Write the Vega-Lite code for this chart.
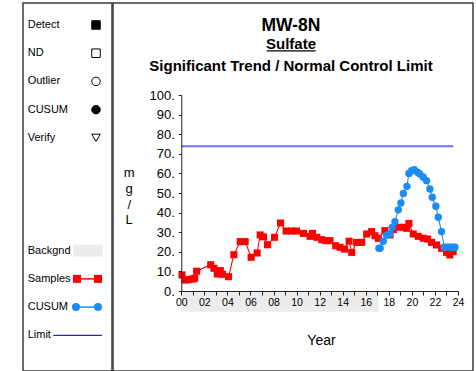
{
  "$schema": "https://vega.github.io/schema/vega-lite/v6.json",
  "padding": {"left": 22, "top": 2, "right": 0, "bottom": 0},
  "spacing": -1.5,
  "config": {
    "font": "Liberation Sans",
    "view": {"stroke": "#3c3c3c", "strokeWidth": 1.5},
    "concat": {"spacing": -1.5}
  },
  "hconcat": [
    {
      "width": 89,
      "height": 368,
      "data": {"values": [
        {"key": "Detect", "label": "Detect"},
        {"key": "ND", "label": "ND"},
        {"key": "Outlier", "label": "Outlier"},
        {"key": "CUSUM", "label": "CUSUM"},
        {"key": "Verify", "label": "Verify"},
        {"key": "Backgnd", "label": "Backgnd"},
        {"key": "Samples", "label": "Samples"},
        {"key": "CUSUM line", "label": "CUSUM"},
        {"key": "Limit", "label": "Limit"}
      ]},
      "encoding": {
        "y": {"field": "key", "type": "nominal", "axis": null,
          "scale": {"type": "point", "padding": 0, "range": [22, 332.3],
            "domain": ["Detect", "ND", "Outlier", "CUSUM", "Verify", "gap1", "gap2", "gap3", "Backgnd", "Samples", "CUSUM line", "Limit"]}}
      },
      "layer": [
        {
          "mark": {"type": "text", "align": "left", "baseline": "middle", "fontSize": 11, "color": "black"},
          "encoding": {
            "x": {"datum": 4.7, "type": "quantitative", "axis": null, "scale": {"domain": [0, 89], "range": [0, 89], "nice": false, "zero": false}},
            "text": {"field": "label"}
          }
        },
        {
          "transform": [{"filter": {"field": "key", "oneOf": ["Detect", "ND", "Outlier", "CUSUM", "Verify"]}}],
          "mark": {"type": "point", "filled": true, "stroke": "black", "strokeWidth": 1, "size": 72, "opacity": 1},
          "encoding": {
            "x": {"datum": 73, "type": "quantitative"},
            "shape": {"field": "key", "type": "nominal", "legend": null,
              "scale": {"domain": ["Detect", "ND", "Outlier", "CUSUM", "Verify"], "range": ["square", "square", "circle", "circle", "triangle-down"]}},
            "fill": {"field": "key", "type": "nominal", "legend": null,
              "scale": {"domain": ["Detect", "ND", "Outlier", "CUSUM", "Verify"], "range": ["black", "white", "white", "black", "white"]}}
          }
        },
        {
          "transform": [{"filter": "datum.key == 'Backgnd'"}],
          "mark": {"type": "rule", "color": "#ececec", "strokeWidth": 12.3, "strokeCap": "butt"},
          "encoding": {"x": {"datum": 50.3, "type": "quantitative"}, "x2": {"datum": 79.7}}
        },
        {
          "transform": [{"filter": "datum.key == 'Samples'"}],
          "mark": {"type": "rule", "color": "#ff0000", "strokeWidth": 1.5},
          "encoding": {"x": {"datum": 54, "type": "quantitative"}, "x2": {"datum": 75}}
        },
        {
          "transform": [{"filter": "datum.key == 'Samples'"}],
          "mark": {"type": "square", "color": "#ff0000", "size": 64, "opacity": 1},
          "encoding": {"x": {"datum": 54, "type": "quantitative"}}
        },
        {
          "transform": [{"filter": "datum.key == 'Samples'"}],
          "mark": {"type": "square", "color": "#ff0000", "size": 64, "opacity": 1},
          "encoding": {"x": {"datum": 75, "type": "quantitative"}}
        },
        {
          "transform": [{"filter": "datum.key == 'CUSUM line'"}],
          "mark": {"type": "rule", "color": "#1b8bf5", "strokeWidth": 1.5},
          "encoding": {"x": {"datum": 53, "type": "quantitative"}, "x2": {"datum": 75}}
        },
        {
          "transform": [{"filter": "datum.key == 'CUSUM line'"}],
          "mark": {"type": "circle", "color": "#1b8bf5", "size": 64, "opacity": 1},
          "encoding": {"x": {"datum": 53, "type": "quantitative"}}
        },
        {
          "transform": [{"filter": "datum.key == 'CUSUM line'"}],
          "mark": {"type": "circle", "color": "#1b8bf5", "size": 64, "opacity": 1},
          "encoding": {"x": {"datum": 75, "type": "quantitative"}}
        },
        {
          "transform": [{"filter": "datum.key == 'Limit'"}],
          "mark": {"type": "rule", "color": "#2a2ab8", "strokeWidth": 1.2},
          "encoding": {"x": {"datum": 30.3, "type": "quantitative"}, "x2": {"datum": 79}}
        }
      ]
    },
    {
      "width": 360,
      "height": 368,
      "title": {
        "text": "MW-8N",
        "subtitle": ["Sulfate", "Significant Trend / Normal Control Limit"],
        "font": "Liberation Sans",
        "subtitleFont": "Liberation Sans",
        "fontSize": 17.5,
        "fontWeight": "bold",
        "color": "black",
        "subtitleFontSize": 15,
        "subtitleFontWeight": "bold",
        "subtitleColor": "black",
        "subtitleLineHeight": 21.6,
        "subtitlePadding": 3,
        "anchor": "middle",
        "frame": "group",
        "dx": -2,
        "offset": -71
      },
      "layer": [
        {
          "data": {"values": [{"period": "Background", "start": 0, "end": 17.1}]},
          "mark": {"type": "rect", "color": "#ececec"},
          "encoding": {
            "x": {"field": "start", "type": "quantitative",
              "scale": {"domain": [0, 24], "range": [68.3, 345], "nice": false, "zero": false},
              "axis": {
                "values": [0, 1, 2, 3, 4, 5, 6, 7, 8, 9, 10, 11, 12, 13, 14, 15, 16, 17, 18, 19, 20, 21, 22, 23, 24],
                "labelExpr": "datum.value % 2 == 0 ? (datum.value < 10 ? '0' : '') + datum.value : ''",
                "title": "Year", "titleX": 208, "titleY": 53.7, "titleBaseline": "alphabetic", "titleAlign": "center", "titleAnchor": null,
                "titleFontSize": 14, "titleFontWeight": "normal", "titleColor": "black",
                "labelFontSize": 10.5, "labelColor": "black", "labelPadding": 2, "labelFlush": false, "labelOverlap": false, "labelBound": false,
                "tickSize": 4, "tickColor": "#222", "domainColor": "#222", "grid": false, "offset": -80, "zindex": 1
              }},
            "x2": {"field": "end"},
            "y": {"datum": -0.3, "type": "quantitative",
              "scale": {"domain": [0, 100], "range": [288, 92], "nice": false, "zero": false},
              "axis": {
                "values": [0, 10, 20, 30, 40, 50, 60, 70, 80, 90, 100],
                "labelExpr": "datum.value + '.'",
                "title": ["m", "g", "/", "L"], "titleAngle": 0, "titleX": -52.6, "titleY": 173.3, "titleAlign": "center", "titleBaseline": "alphabetic",
                "titleLineHeight": 15.9, "titleFontSize": 13, "titleFontWeight": "normal", "titleColor": "black", "titleAnchor": null,
                "labelFontSize": 13, "labelColor": "black", "labelPadding": 4, "labelFlush": false, "labelOverlap": false, "labelBound": false,
                "tickSize": 3, "tickColor": "#222", "domainColor": "#222", "grid": false, "offset": -68.3, "zindex": 1
              }},
            "y2": {"datum": -10.6}
          }
        },
        {
          "data": {"values": [{"limit": 73.8, "start": 0, "end": 23.6}]},
          "mark": {"type": "rule", "color": "#6f6ff0", "strokeWidth": 2},
          "encoding": {
            "x": {"field": "start", "type": "quantitative",
              "scale": {"domain": [0, 24], "range": [68.3, 345], "nice": false, "zero": false},
              "axis": {
                "values": [0, 1, 2, 3, 4, 5, 6, 7, 8, 9, 10, 11, 12, 13, 14, 15, 16, 17, 18, 19, 20, 21, 22, 23, 24],
                "labelExpr": "datum.value % 2 == 0 ? (datum.value < 10 ? '0' : '') + datum.value : ''",
                "title": "Year", "titleX": 208, "titleY": 53.7, "titleBaseline": "alphabetic", "titleAlign": "center", "titleAnchor": null,
                "titleFontSize": 14, "titleFontWeight": "normal", "titleColor": "black",
                "labelFontSize": 10.5, "labelColor": "black", "labelPadding": 2, "labelFlush": false, "labelOverlap": false, "labelBound": false,
                "tickSize": 4, "tickColor": "#222", "domainColor": "#222", "grid": false, "offset": -80, "zindex": 1
              }},
            "x2": {"field": "end"},
            "y": {"field": "limit", "type": "quantitative",
              "scale": {"domain": [0, 100], "range": [288, 92], "nice": false, "zero": false},
              "axis": {
                "values": [0, 10, 20, 30, 40, 50, 60, 70, 80, 90, 100],
                "labelExpr": "datum.value + '.'",
                "title": ["m", "g", "/", "L"], "titleAngle": 0, "titleX": -52.6, "titleY": 173.3, "titleAlign": "center", "titleBaseline": "alphabetic",
                "titleLineHeight": 15.9, "titleFontSize": 13, "titleFontWeight": "normal", "titleColor": "black", "titleAnchor": null,
                "labelFontSize": 13, "labelColor": "black", "labelPadding": 4, "labelFlush": false, "labelOverlap": false, "labelBound": false,
                "tickSize": 3, "tickColor": "#222", "domainColor": "#222", "grid": false, "offset": -68.3, "zindex": 1
              }}
          }
        },
        {
          "data": {"values": [{"label": "Sulfate"}]},
          "mark": {"type": "rule", "color": "black", "strokeWidth": 1.2},
          "encoding": {
            "x": {"datum": 7.4, "type": "quantitative",
              "scale": {"domain": [0, 24], "range": [68.3, 345], "nice": false, "zero": false},
              "axis": {
                "values": [0, 1, 2, 3, 4, 5, 6, 7, 8, 9, 10, 11, 12, 13, 14, 15, 16, 17, 18, 19, 20, 21, 22, 23, 24],
                "labelExpr": "datum.value % 2 == 0 ? (datum.value < 10 ? '0' : '') + datum.value : ''",
                "title": "Year", "titleX": 208, "titleY": 53.7, "titleBaseline": "alphabetic", "titleAlign": "center", "titleAnchor": null,
                "titleFontSize": 14, "titleFontWeight": "normal", "titleColor": "black",
                "labelFontSize": 10.5, "labelColor": "black", "labelPadding": 2, "labelFlush": false, "labelOverlap": false, "labelBound": false,
                "tickSize": 4, "tickColor": "#222", "domainColor": "#222", "grid": false, "offset": -80, "zindex": 1
              }},
            "x2": {"datum": 11.65},
            "y": {"datum": 122.5, "type": "quantitative",
              "scale": {"domain": [0, 100], "range": [288, 92], "nice": false, "zero": false},
              "axis": {
                "values": [0, 10, 20, 30, 40, 50, 60, 70, 80, 90, 100],
                "labelExpr": "datum.value + '.'",
                "title": ["m", "g", "/", "L"], "titleAngle": 0, "titleX": -52.6, "titleY": 173.3, "titleAlign": "center", "titleBaseline": "alphabetic",
                "titleLineHeight": 15.9, "titleFontSize": 13, "titleFontWeight": "normal", "titleColor": "black", "titleAnchor": null,
                "labelFontSize": 13, "labelColor": "black", "labelPadding": 4, "labelFlush": false, "labelOverlap": false, "labelBound": false,
                "tickSize": 3, "tickColor": "#222", "domainColor": "#222", "grid": false, "offset": -68.3, "zindex": 1
              }}
          }
        },
        {
          "data": {"name": "samples", "values": [
            {"year": 0.06, "value": 8.2}, {"year": 0.35, "value": 5.6}, {"year": 0.69, "value": 5.8}, {"year": 0.99, "value": 6.1},
            {"year": 1.16, "value": 6.5}, {"year": 1.33, "value": 10.1}, {"year": 2.55, "value": 13.4}, {"year": 2.83, "value": 11.6},
            {"year": 3.12, "value": 8.7}, {"year": 3.38, "value": 10.4}, {"year": 3.58, "value": 8.5}, {"year": 4.10, "value": 7.3},
            {"year": 4.56, "value": 18.5}, {"year": 5.11, "value": 25.2}, {"year": 5.54, "value": 25.2}, {"year": 6.06, "value": 17.2},
            {"year": 6.58, "value": 19.4}, {"year": 6.84, "value": 28.6}, {"year": 7.13, "value": 27.6}, {"year": 7.48, "value": 23.6},
            {"year": 8.09, "value": 27.4}, {"year": 8.61, "value": 34.7}, {"year": 9.09, "value": 30.6}, {"year": 9.58, "value": 30.6},
            {"year": 9.99, "value": 30.6}, {"year": 10.6, "value": 29.4}, {"year": 11.17, "value": 27.9}, {"year": 11.38, "value": 29.4},
            {"year": 11.75, "value": 27.4}, {"year": 12.18, "value": 26.2}, {"year": 12.53, "value": 25.7}, {"year": 12.9, "value": 25.7},
            {"year": 13.39, "value": 23.1}, {"year": 13.77, "value": 22.3}, {"year": 14.15, "value": 21.4}, {"year": 14.55, "value": 25.4},
            {"year": 14.78, "value": 19.7}, {"year": 15.21, "value": 24.8}, {"year": 15.65, "value": 24.8}, {"year": 16.08, "value": 29.1},
            {"year": 16.51, "value": 30.3}, {"year": 16.8, "value": 28.2}, {"year": 17.09, "value": 26.9}, {"year": 17.66, "value": 30.8},
            {"year": 18.1, "value": 28.6}, {"year": 18.39, "value": 31.3}, {"year": 18.82, "value": 32.5}, {"year": 19.26, "value": 32.5},
            {"year": 19.54, "value": 32.0}, {"year": 19.74, "value": 34.5}, {"year": 20.12, "value": 29.1}, {"year": 20.55, "value": 27.9},
            {"year": 20.99, "value": 26.9}, {"year": 21.36, "value": 26.5}, {"year": 21.71, "value": 24.8}, {"year": 22.14, "value": 23.5},
            {"year": 22.57, "value": 21.8}, {"year": 23.01, "value": 19.7}, {"year": 23.29, "value": 18.4}, {"year": 23.58, "value": 20.1}
          ]},
          "encoding": {
            "x": {"field": "year", "type": "quantitative",
              "scale": {"domain": [0, 24], "range": [68.3, 345], "nice": false, "zero": false},
              "axis": {
                "values": [0, 1, 2, 3, 4, 5, 6, 7, 8, 9, 10, 11, 12, 13, 14, 15, 16, 17, 18, 19, 20, 21, 22, 23, 24],
                "labelExpr": "datum.value % 2 == 0 ? (datum.value < 10 ? '0' : '') + datum.value : ''",
                "title": "Year", "titleX": 208, "titleY": 53.7, "titleBaseline": "alphabetic", "titleAlign": "center", "titleAnchor": null,
                "titleFontSize": 14, "titleFontWeight": "normal", "titleColor": "black",
                "labelFontSize": 10.5, "labelColor": "black", "labelPadding": 2, "labelFlush": false, "labelOverlap": false, "labelBound": false,
                "tickSize": 4, "tickColor": "#222", "domainColor": "#222", "grid": false, "offset": -80, "zindex": 1
              }},
            "y": {"field": "value", "type": "quantitative",
              "scale": {"domain": [0, 100], "range": [288, 92], "nice": false, "zero": false},
              "axis": {
                "values": [0, 10, 20, 30, 40, 50, 60, 70, 80, 90, 100],
                "labelExpr": "datum.value + '.'",
                "title": ["m", "g", "/", "L"], "titleAngle": 0, "titleX": -52.6, "titleY": 173.3, "titleAlign": "center", "titleBaseline": "alphabetic",
                "titleLineHeight": 15.9, "titleFontSize": 13, "titleFontWeight": "normal", "titleColor": "black", "titleAnchor": null,
                "labelFontSize": 13, "labelColor": "black", "labelPadding": 4, "labelFlush": false, "labelOverlap": false, "labelBound": false,
                "tickSize": 3, "tickColor": "#222", "domainColor": "#222", "grid": false, "offset": -68.3, "zindex": 1
              }}
          },
          "layer": [
            {"mark": {"type": "line", "color": "#ff0000", "strokeWidth": 1.1}},
            {"mark": {"type": "square", "color": "#ff0000", "size": 50, "opacity": 1}}
          ]
        },
        {
          "data": {"name": "cusum", "values": [
            {"year": 17.14, "value": 21.8}, {"year": 17.25, "value": 21.8}, {"year": 17.52, "value": 25.4}, {"year": 17.81, "value": 28.5},
            {"year": 18.1, "value": 29.1}, {"year": 18.3, "value": 32.5}, {"year": 18.53, "value": 35.4}, {"year": 18.82, "value": 41.4},
            {"year": 19.05, "value": 44.9}, {"year": 19.26, "value": 49.8}, {"year": 19.57, "value": 53.4}, {"year": 19.74, "value": 60.0},
            {"year": 19.97, "value": 61.4}, {"year": 20.21, "value": 61.9}, {"year": 20.49, "value": 60.6}, {"year": 20.69, "value": 59.7},
            {"year": 20.99, "value": 58.0}, {"year": 21.27, "value": 56.3}, {"year": 21.56, "value": 52.0}, {"year": 21.77, "value": 47.8},
            {"year": 22.08, "value": 43.2}, {"year": 22.29, "value": 37.6}, {"year": 22.57, "value": 30.3}, {"year": 22.8, "value": 22.3},
            {"year": 23.0, "value": 22.3}, {"year": 23.2, "value": 22.3}, {"year": 23.4, "value": 22.3}, {"year": 23.6, "value": 22.3},
            {"year": 23.73, "value": 22.3}
          ]},
          "encoding": {
            "x": {"field": "year", "type": "quantitative",
              "scale": {"domain": [0, 24], "range": [68.3, 345], "nice": false, "zero": false},
              "axis": {
                "values": [0, 1, 2, 3, 4, 5, 6, 7, 8, 9, 10, 11, 12, 13, 14, 15, 16, 17, 18, 19, 20, 21, 22, 23, 24],
                "labelExpr": "datum.value % 2 == 0 ? (datum.value < 10 ? '0' : '') + datum.value : ''",
                "title": "Year", "titleX": 208, "titleY": 53.7, "titleBaseline": "alphabetic", "titleAlign": "center", "titleAnchor": null,
                "titleFontSize": 14, "titleFontWeight": "normal", "titleColor": "black",
                "labelFontSize": 10.5, "labelColor": "black", "labelPadding": 2, "labelFlush": false, "labelOverlap": false, "labelBound": false,
                "tickSize": 4, "tickColor": "#222", "domainColor": "#222", "grid": false, "offset": -80, "zindex": 1
              }},
            "y": {"field": "value", "type": "quantitative",
              "scale": {"domain": [0, 100], "range": [288, 92], "nice": false, "zero": false},
              "axis": {
                "values": [0, 10, 20, 30, 40, 50, 60, 70, 80, 90, 100],
                "labelExpr": "datum.value + '.'",
                "title": ["m", "g", "/", "L"], "titleAngle": 0, "titleX": -52.6, "titleY": 173.3, "titleAlign": "center", "titleBaseline": "alphabetic",
                "titleLineHeight": 15.9, "titleFontSize": 13, "titleFontWeight": "normal", "titleColor": "black", "titleAnchor": null,
                "labelFontSize": 13, "labelColor": "black", "labelPadding": 4, "labelFlush": false, "labelOverlap": false, "labelBound": false,
                "tickSize": 3, "tickColor": "#222", "domainColor": "#222", "grid": false, "offset": -68.3, "zindex": 1
              }}
          },
          "layer": [
            {"mark": {"type": "line", "color": "#1b8bf5", "strokeWidth": 1.1}},
            {"mark": {"type": "circle", "color": "#1b8bf5", "size": 55, "opacity": 1}}
          ]
        }
      ]
    }
  ]
}
